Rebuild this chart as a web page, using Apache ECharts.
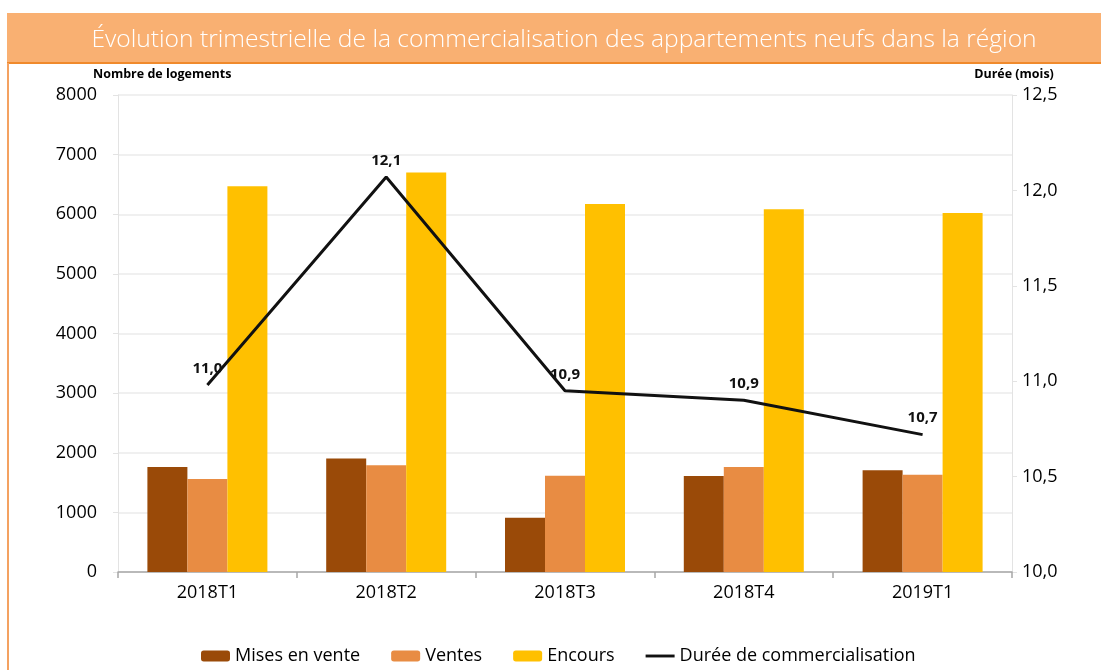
<!DOCTYPE html>
<html>
<head>
<meta charset="utf-8">
<script src="https://cdn.jsdelivr.net/npm/echarts@6/dist/echarts.min.js"></script>
<style>
    html, body { margin: 0; padding: 0; background: #fff; }
    #main { width: 1101px; height: 670px; }
</style>
</head>
<body>
<div id="main"></div>
<script>
// données du graphique
var trimestres = ['2018T1', '2018T2', '2018T3', '2018T4', '2019T1'];
var misesEnVente = [1760, 1905, 910, 1610, 1705];
var ventes = [1560, 1790, 1615, 1760, 1630];
var encours = [6470, 6700, 6170, 6085, 6020];
var duree = [10.98, 12.07, 10.95, 10.90, 10.72];

var police = '"Open Sans", "Noto Sans", sans-serif';

function virgule(v, n) {
    return Number(v).toFixed(n).replace('.', ',');
}

var myChart = echarts.init(document.getElementById('main'));
var option = {
    backgroundColor: '#ffffff',
    textStyle: { fontFamily: police },
    graphic: [
        // bandeau du titre
        { type: 'rect', shape: { x: 7, y: 13, width: 1094, height: 50 }, style: { fill: '#F9B072' } },
        { type: 'line', shape: { x1: 7, y1: 63, x2: 1101, y2: 63 }, style: { stroke: '#F08A2C', lineWidth: 2 } },
        { type: 'line', shape: { x1: 8, y1: 63, x2: 8, y2: 670 }, style: { stroke: '#F4A261', lineWidth: 2 } },
        {
            type: 'text', x: 564, y: 40,
            style: {
                text: 'Évolution trimestrielle de la commercialisation des appartements neufs dans la région',
                fill: '#ffffff', font: '300 24.6px ' + police, textAlign: 'center', textVerticalAlign: 'middle'
            }
        },
        // noms des axes
        {
            type: 'text', x: 93, y: 74,
            style: { text: 'Nombre de logements', fill: '#000', font: 'bold 12.5px ' + police, textVerticalAlign: 'middle' }
        },
        {
            type: 'text', x: 1014, y: 74,
            style: { text: 'Durée (mois)', fill: '#000', font: 'bold 12.5px ' + police, textAlign: 'center', textVerticalAlign: 'middle' }
        }
    ],
    legend: {
        left: 201,
        top: 647,
        padding: 0,
        itemWidth: 29,
        itemHeight: 11,
        itemGap: 31,
        textStyle: { fontSize: 18, color: '#000', fontFamily: police },
        data: [
            'Mises en vente',
            'Ventes',
            'Encours',
            { name: 'Durée de commercialisation', icon: 'path://M0,0 L30,0 L30,3 L0,3 Z' }
        ]
    },
    grid: {
        left: 118,
        right: 89,
        top: 95,
        bottom: 98
    },
    xAxis: [{
        type: 'category',
        data: trimestres,
        axisLine: { lineStyle: { color: '#A6A6A6', width: 1.5 } },
        axisTick: { show: true, length: 6, lineStyle: { color: '#A6A6A6', width: 1.5 } },
        axisLabel: { fontSize: 18, color: '#000', margin: 12 }
    }],
    yAxis: [
        {
            type: 'value',
            min: 0,
            max: 8000,
            interval: 1000,
            position: 'left',
            axisLine: { show: true, lineStyle: { color: '#E3E3E3' } },
            axisTick: { show: true, length: 5, lineStyle: { color: '#E3E3E3' } },
            axisLabel: {
                fontSize: 18, color: '#000', margin: 21,
                formatter: function (v) { return String(v); }
            },
            splitLine: { lineStyle: { color: '#EBEBEB', width: 1.5 } }
        },
        {
            type: 'value',
            min: 10,
            max: 12.5,
            interval: 0.5,
            position: 'right',
            axisLine: { show: true, lineStyle: { color: '#E3E3E3' } },
            axisTick: { show: true, length: 5, lineStyle: { color: '#E3E3E3' } },
            axisLabel: {
                fontSize: 18, color: '#000', margin: 10,
                formatter: function (v) { return virgule(v, 1); }
            },
            splitLine: { show: false }
        }
    ],
    series: [
        {
            name: 'Mises en vente',
            type: 'bar',
            yAxisIndex: 0,
            barWidth: 40,
            barGap: '0%',
            itemStyle: { color: '#9A4A08' },
            data: misesEnVente
        },
        {
            name: 'Ventes',
            type: 'bar',
            yAxisIndex: 0,
            barWidth: 40,
            barGap: '0%',
            itemStyle: { color: '#E88C43' },
            data: ventes
        },
        {
            name: 'Encours',
            type: 'bar',
            yAxisIndex: 0,
            barWidth: 40,
            barGap: '0%',
            itemStyle: { color: '#FFC000' },
            data: encours
        },
        {
            name: 'Durée de commercialisation',
            type: 'line',
            yAxisIndex: 1,
            symbol: 'circle',
            symbolSize: 0,
            z: 5,
            lineStyle: { color: '#111111', width: 3 },
            itemStyle: { color: '#111111' },
            label: {
                show: true,
                position: 'top',
                distance: 9,
                color: '#111',
                fontWeight: 'bold',
                fontSize: 15,
                formatter: function (p) { return virgule(p.value, 1); }
            },
            data: duree
        }
    ]
};
myChart.setOption(option);
</script>
</body>
</html>
